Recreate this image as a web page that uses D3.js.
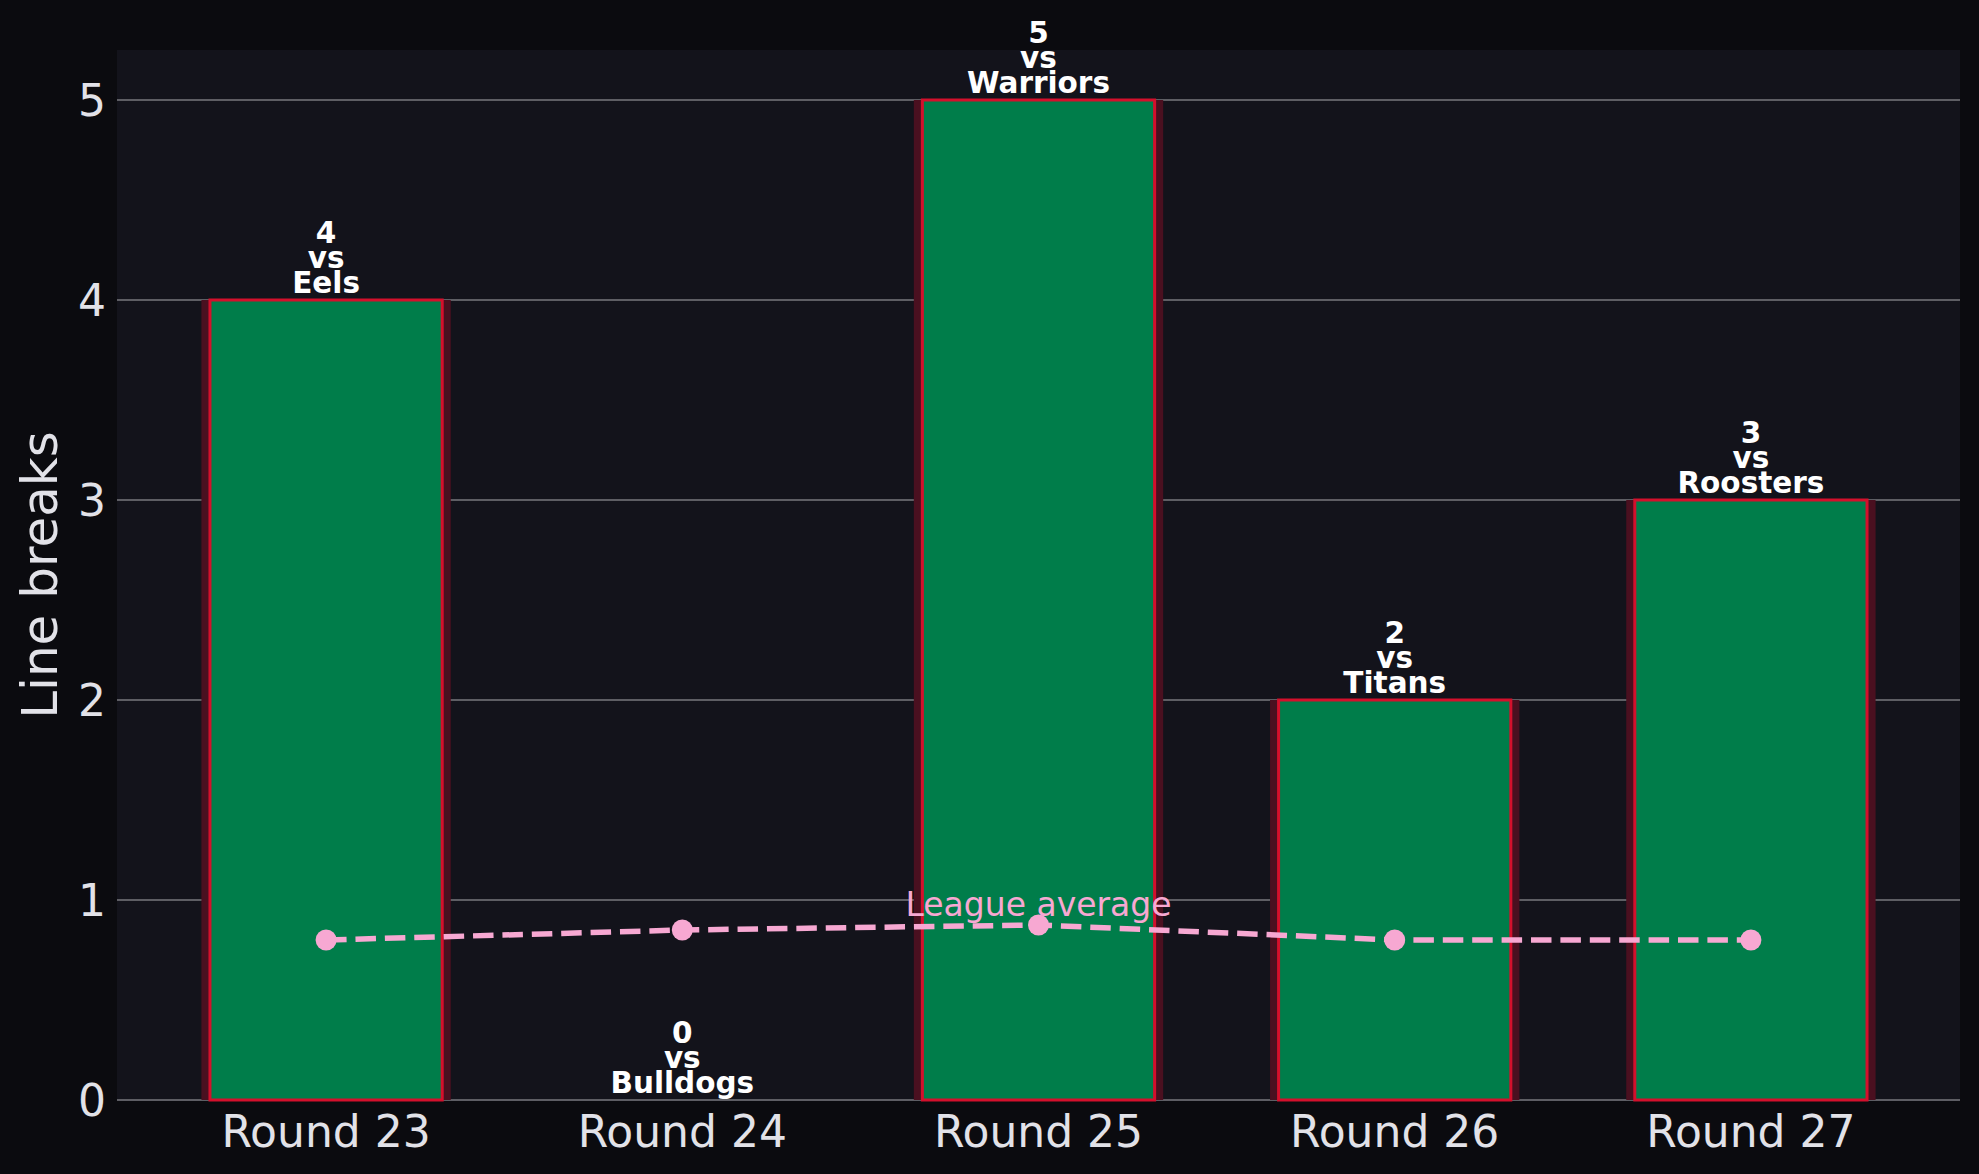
<!DOCTYPE html>
<html>
<head>
<meta charset="utf-8">
<script src="https://cdn.jsdelivr.net/npm/d3@7"></script>
<style>
  html, body { margin: 0; padding: 0; background: #0b0b0f; }
  svg { display: block; }
</style>
</head>
<body>
<svg id="chart" width="1979" height="1174"></svg>
<script>
const rounds = ["Round 23", "Round 24", "Round 25", "Round 26", "Round 27"];
const lineBreaks = [4, 0, 5, 2, 3];
const opponents = ["Eels", "Bulldogs", "Warriors", "Titans", "Roosters"];
const leagueAverage = [0.80, 0.85, 0.875, 0.80, 0.80];
const yTicks = [0, 1, 2, 3, 4, 5];

const W = 1979, H = 1174;
const m = { left: 117, right: 1960, top: 50, bottom: 1100 };
const svg = d3.select("#chart");
const font = "'DejaVu Sans', sans-serif";

svg.append("rect").attr("width", W).attr("height", H).attr("fill", "#0b0b0f");
svg.append("rect").attr("x", m.left).attr("y", m.top)
  .attr("width", m.right - m.left).attr("height", m.bottom - m.top).attr("fill", "#13131b");

const x = d3.scaleLinear().domain([-0.587, rounds.length - 1 + 0.587]).range([m.left, m.right]);
const y = d3.scaleLinear().domain([0, 5.25]).range([m.bottom, m.top]);
const barW = 0.652, shadowW = 0.70;

// grid
svg.append("g").selectAll("line").data(yTicks).join("line")
  .attr("x1", m.left).attr("x2", m.right)
  .attr("y1", d => y(d)).attr("y2", d => y(d))
  .attr("stroke", "#5e5e64").attr("stroke-width", 2);

// y tick labels
svg.append("g").selectAll("text").data(yTicks).join("text")
  .attr("x", 106).attr("y", d => y(d))
  .attr("text-anchor", "end").attr("dominant-baseline", "central")
  .attr("font-family", font).attr("font-size", 44).attr("fill", "#e2e2e8")
  .text(d => d);

// x tick labels
svg.append("g").selectAll("text").data(rounds).join("text")
  .attr("x", (d, i) => x(i)).attr("y", 1147)
  .attr("text-anchor", "middle")
  .attr("font-family", font).attr("font-size", 44).attr("fill", "#e2e2e8")
  .text(d => d);

// y label
svg.append("text")
  .attr("transform", `translate(57, ${(m.top + m.bottom) / 2}) rotate(-90)`)
  .attr("text-anchor", "middle")
  .attr("font-family", font).attr("font-size", 50).attr("fill", "#e2e2e8")
  .text("Line breaks");

// bar shadows
svg.append("g").selectAll("rect").data(lineBreaks).join("rect")
  .attr("x", (d, i) => x(i - shadowW / 2)).attr("width", x(shadowW) - x(0))
  .attr("y", d => y(d)).attr("height", d => y(0) - y(d))
  .attr("fill", "#4a1020");

// bars
svg.append("g").selectAll("rect").data(lineBreaks).join("rect")
  .attr("x", (d, i) => x(i - barW / 2)).attr("width", x(barW) - x(0))
  .attr("y", d => y(d)).attr("height", d => y(0) - y(d))
  .attr("fill", "#007d4a").attr("stroke", "#d4102c").attr("stroke-width", 3);

// bar labels
const lbl = svg.append("g").selectAll("text").data(lineBreaks).join("text")
  .attr("text-anchor", "middle")
  .attr("font-family", font).attr("font-weight", "bold").attr("font-size", 29.5)
  .attr("fill", "#ffffff");
lbl.each(function (d, i) {
  const t = d3.select(this);
  const base = y(d) - 7;
  [String(d), "vs", opponents[i]].forEach((s, k) => {
    t.append("tspan").attr("x", x(i)).attr("y", base - (2 - k) * 25).text(s);
  });
});

// league average line
svg.append("path").datum(leagueAverage)
  .attr("d", d3.line().x((d, i) => x(i)).y(d => y(d)))
  .attr("fill", "none").attr("stroke", "#f7a8d2").attr("stroke-width", 5.5)
  .attr("stroke-dasharray", "20.5 8.9");
svg.append("g").selectAll("circle").data(leagueAverage).join("circle")
  .attr("cx", (d, i) => x(i)).attr("cy", d => y(d)).attr("r", 10.5)
  .attr("fill", "#f7a8d2");

svg.append("text")
  .attr("x", x(2)).attr("y", y(leagueAverage[2]) - 9)
  .attr("text-anchor", "middle")
  .attr("font-family", font).attr("font-size", 33).attr("fill", "#f7a8d2")
  .text("League average");
</script>
</body>
</html>
